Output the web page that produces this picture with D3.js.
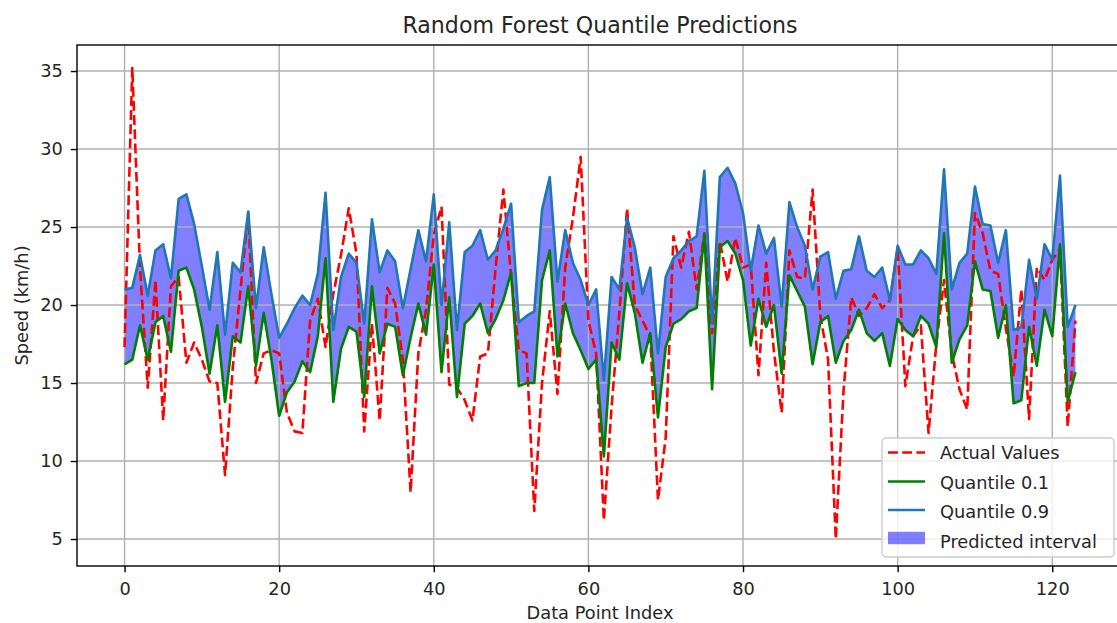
<!DOCTYPE html>
<html>
<head>
<meta charset="utf-8">
<script src="https://cdn.jsdelivr.net/npm/d3@7"></script>
<style>
  html, body { margin: 0; padding: 0; background: #ffffff; }
  svg { display: block; }
  text { font-family: "DejaVu Sans", sans-serif; fill: #262626; }
</style>
</head>
<body>
<svg id="chart" width="1117" height="623"></svg>
<script>
// ---- Data ----
const actualValues = [
  17.3, 35.2, 22.4, 14.7, 21.6, 12.6, 21.2, 21.8, 16.3, 17.6,
  16.5, 15.1, 15.0, 9.1, 16.0, 21.0, 25.9, 15.0, 16.9, 17.1,
  16.9, 13.1, 11.9, 11.8, 19.0, 20.4, 17.3, 20.7, 23.2, 26.2,
  23.3, 11.9, 18.8, 12.6, 21.1, 20.1, 16.5, 8.0, 16.9, 19.7,
  24.5, 26.3, 14.9, 14.7, 13.9, 12.6, 16.7, 16.9, 22.4, 27.4,
  21.9, 17.1, 16.9, 6.8, 15.0, 19.6, 14.3, 22.4, 25.6, 29.5,
  19.0, 16.9, 6.2, 13.5, 19.5, 26.2, 20.0, 19.0, 18.0, 7.5,
  11.5, 24.4, 22.4, 24.7, 21.0, 24.6, 18.2, 24.1, 21.5, 24.3,
  22.4, 22.6, 15.5, 22.7, 17.0, 13.1, 23.5, 21.8, 21.7, 27.4,
  19.3, 16.5, 5.0, 14.5, 20.5, 19.3, 19.8, 20.7, 19.8, 20.3,
  23.6, 14.8, 18.0, 18.7, 11.8, 17.5, 21.6, 16.9, 14.6, 13.3,
  25.9, 24.6, 22.2, 22.0, 18.5, 15.4, 21.0, 12.7, 22.4, 21.6,
  22.9, 23.6, 12.2, 19.0
];
const quantile10 = [
  16.2, 16.5, 18.7, 16.5, 18.9, 19.3, 17.0, 22.2, 22.4, 21.0,
  18.6, 15.6, 18.7, 13.8, 18.0, 17.6, 21.2, 16.1, 19.5, 16.5,
  12.9, 14.4, 15.1, 16.4, 15.7, 18.0, 23.0, 13.8, 17.2, 18.6,
  18.3, 14.1, 21.2, 16.9, 18.8, 18.6, 15.5, 17.9, 20.1, 18.1,
  22.6, 15.7, 20.5, 14.1, 18.8, 19.3, 20.1, 18.2, 19.1, 20.3,
  22.1, 14.8, 15.0, 15.0, 21.6, 23.5, 16.7, 20.1, 18.2, 17.1,
  15.9, 16.5, 10.3, 17.6, 16.5, 21.4, 19.5, 16.3, 18.2, 12.8,
  17.3, 18.8, 19.1, 19.6, 19.8, 24.5, 14.6, 23.7, 24.1, 23.3,
  21.6, 17.4, 20.4, 18.6, 20.0, 15.6, 21.9, 20.9, 19.9, 16.2,
  18.9, 19.3, 16.3, 17.7, 18.4, 19.7, 18.2, 17.7, 18.2, 16.1,
  19.1, 18.4, 18.0, 19.3, 18.8, 17.3, 24.6, 16.3, 17.8, 18.7,
  22.8, 21.0, 20.9, 17.9, 20.0, 13.7, 13.9, 18.6, 16.1, 19.7,
  18.0, 23.9, 13.8, 15.7
];
const quantile90 = [
  21.0, 21.1, 23.2, 20.6, 23.5, 23.9, 21.7, 26.8, 27.1, 25.2,
  22.5, 19.7, 23.4, 18.1, 22.7, 22.1, 26.0, 19.8, 23.7, 20.7,
  17.9, 18.8, 19.8, 20.6, 20.0, 22.0, 27.2, 18.4, 21.8, 23.3,
  22.7, 18.8, 25.5, 22.1, 23.5, 22.8, 19.8, 22.3, 24.8, 22.8,
  27.1, 20.0, 25.3, 18.4, 23.4, 23.8, 24.8, 22.9, 23.5, 24.9,
  26.5, 18.9, 19.3, 19.6, 26.1, 28.2, 21.5, 24.8, 22.7, 21.6,
  20.0, 21.0, 15.2, 21.8, 21.0, 25.6, 23.7, 20.7, 22.4, 16.9,
  21.8, 23.0, 23.5, 24.1, 24.4, 28.6, 18.8, 28.2, 28.8, 27.8,
  25.9, 22.2, 25.1, 23.3, 24.3, 19.9, 26.6, 25.0, 23.8, 21.0,
  23.1, 23.4, 20.4, 22.2, 22.3, 24.4, 22.2, 21.8, 22.4, 20.3,
  23.8, 22.6, 22.6, 23.5, 23.0, 22.0, 28.7, 21.0, 22.7, 23.3,
  27.6, 25.2, 25.1, 22.7, 24.8, 18.4, 18.6, 22.9, 20.4, 23.9,
  22.9, 28.3, 18.6, 20.0
];
const xTicks = [0, 20, 40, 60, 80, 100, 120];
const yTicks = [5, 10, 15, 20, 25, 30, 35];
const legendLabels = ["Actual Values", "Quantile 0.1", "Quantile 0.9", "Predicted interval"];
const titleText = "Random Forest Quantile Predictions";
const xLabelText = "Data Point Index";
const yLabelText = "Speed (km/h)";

// ---- Layout ----
const svg = d3.select("#chart");
const plot = { left: 77, right: 1123, top: 45, bottom: 566 };
const FS = 17.8;   // tick / legend font size
const n = actualValues.length;
const pad = (n - 1) * 0.05;

const x = d3.scaleLinear().domain([-pad, n - 1 + pad]).range([plot.left, plot.right]);
const y = d3.scaleLinear().domain([3.27, 36.67]).range([plot.bottom, plot.top]);

const idx = d3.range(n);

svg.append("defs").append("clipPath").attr("id", "clip")
  .append("rect")
  .attr("x", plot.left).attr("y", plot.top)
  .attr("width", plot.right - plot.left).attr("height", plot.bottom - plot.top);

// Fill band (below grid, like matplotlib zorder)
const area = d3.area()
  .x(i => x(i))
  .y0(i => y(quantile10[i]))
  .y1(i => y(quantile90[i]));

svg.append("path")
  .datum(idx)
  .attr("clip-path", "url(#clip)")
  .attr("d", area)
  .attr("fill", "rgba(0,0,255,0.5)")
  .attr("stroke", "none");

// Grid
const grid = svg.append("g").attr("clip-path", "url(#clip)");
grid.selectAll("line.gx").data(xTicks).enter().append("line")
  .attr("x1", d => x(d)).attr("x2", d => x(d))
  .attr("y1", plot.top).attr("y2", plot.bottom)
  .attr("stroke", "#b0b0b0").attr("stroke-width", 1.4);
grid.selectAll("line.gy").data(yTicks).enter().append("line")
  .attr("x1", plot.left).attr("x2", plot.right)
  .attr("y1", d => y(d)).attr("y2", d => y(d))
  .attr("stroke", "#b0b0b0").attr("stroke-width", 1.4);

// Lines
const mkLine = arr => d3.line().x(i => x(i)).y(i => y(arr[i]));
const lines = svg.append("g").attr("clip-path", "url(#clip)");
lines.append("path").datum(idx).attr("d", mkLine(actualValues))
  .attr("fill", "none").attr("stroke", "#ff0000").attr("stroke-width", 2.6)
  .attr("stroke-dasharray", "9.9,4.3").attr("stroke-linejoin", "round");
lines.append("path").datum(idx).attr("d", mkLine(quantile10))
  .attr("fill", "none").attr("stroke", "#008000").attr("stroke-width", 2.6)
  .attr("stroke-linejoin", "round");
lines.append("path").datum(idx).attr("d", mkLine(quantile90))
  .attr("fill", "none").attr("stroke", "#1f77b4").attr("stroke-width", 2.6)
  .attr("stroke-linejoin", "round");

// Axes
const xAxis = svg.append("g")
  .attr("transform", `translate(0,${plot.bottom})`)
  .call(d3.axisBottom(x).tickValues(xTicks).tickSize(6.2).tickFormat(d3.format("d")));
xAxis.select(".domain").remove();
xAxis.selectAll(".tick line").attr("stroke", "#000").attr("stroke-width", 1.4);
xAxis.selectAll(".tick text")
  .attr("y", 16).attr("dy", "0.71em")
  .style("font-family", "DejaVu Sans").style("font-size", FS + "px").attr("fill", "#262626");

const yAxis = svg.append("g")
  .attr("transform", `translate(${plot.left},0)`)
  .call(d3.axisLeft(y).tickValues(yTicks).tickSize(6.2).tickPadding(8).tickFormat(d3.format("d")));
yAxis.select(".domain").remove();
yAxis.selectAll(".tick line").attr("stroke", "#000").attr("stroke-width", 1.4);
yAxis.selectAll(".tick text")
  .style("font-family", "DejaVu Sans").style("font-size", FS + "px").attr("fill", "#262626");

// Spines
svg.append("rect")
  .attr("x", plot.left).attr("y", plot.top)
  .attr("width", plot.right - plot.left).attr("height", plot.bottom - plot.top)
  .attr("fill", "none").attr("stroke", "#000").attr("stroke-width", 1.4);

// Title and labels
svg.append("text")
  .attr("x", (plot.left + plot.right) / 2).attr("y", 33.3)
  .attr("text-anchor", "middle")
  .style("font-size", "22.1px")
  .text(titleText);

svg.append("text")
  .attr("x", (plot.left + plot.right) / 2).attr("y", 619)
  .attr("text-anchor", "middle")
  .style("font-size", FS + "px")
  .text(xLabelText);

svg.append("text")
  .attr("transform", `translate(27.5,${(plot.top + plot.bottom) / 2}) rotate(-90)`)
  .attr("text-anchor", "middle")
  .style("font-size", FS + "px")
  .text(yLabelText);

// Legend
const lg = svg.append("g");
lg.append("rect")
  .attr("x", 882).attr("y", 438).attr("width", 232).attr("height", 119)
  .attr("rx", 4).attr("ry", 4)
  .attr("fill", "rgba(255,255,255,0.8)").attr("stroke", "#cccccc").attr("stroke-width", 1.4);

const rowText = [459, 488.5, 518, 547.5];
const rowHandle = [452.5, 481.5, 510, 538];
const hx0 = 888, hx1 = 925;

lg.append("line").attr("x1", hx0).attr("x2", hx1).attr("y1", rowHandle[0]).attr("y2", rowHandle[0])
  .attr("stroke", "#ff0000").attr("stroke-width", 2.6).attr("stroke-dasharray", "9.9,4.3");
lg.append("line").attr("x1", hx0).attr("x2", hx1).attr("y1", rowHandle[1]).attr("y2", rowHandle[1])
  .attr("stroke", "#008000").attr("stroke-width", 2.6);
lg.append("line").attr("x1", hx0).attr("x2", hx1).attr("y1", rowHandle[2]).attr("y2", rowHandle[2])
  .attr("stroke", "#1f77b4").attr("stroke-width", 2.6);
lg.append("rect").attr("x", hx0).attr("y", rowHandle[3] - 6.2).attr("width", hx1 - hx0).attr("height", 12.4)
  .attr("fill", "rgba(0,0,255,0.5)");

lg.selectAll("text.leg").data(legendLabels).enter().append("text")
  .attr("class", "leg")
  .attr("x", 940).attr("y", (d, i) => rowText[i])
  .style("font-size", FS + "px")
  .text(d => d);
</script>
</body>
</html>
